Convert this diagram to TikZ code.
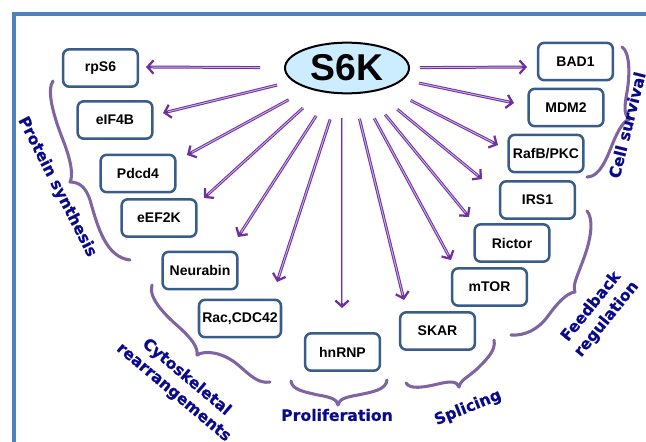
\documentclass[tikz,border=0pt]{standalone}
\usepackage{fontspec}
\setmainfont{Liberation Sans}
\newfontfamily\lblfont{DejaVu Sans Bold}[FakeBold=0.6]
\usetikzlibrary{arrows.meta,shapes.geometric}
\definecolor{framec}{RGB}{79,129,189}
\definecolor{arrowc}{RGB}{112,48,160}
\definecolor{arrowin}{RGB}{200,175,230}
\definecolor{bracec}{RGB}{128,100,162}
\definecolor{boxc}{RGB}{56,93,138}
\definecolor{lblc}{RGB}{10,10,140}
\definecolor{ellc}{RGB}{204,236,255}
\begin{document}
\begin{tikzpicture}[x=0.75pt,y=-0.75pt,
 box/.style={draw=boxc, line width=1.9pt, rounded corners=4.5pt, fill=white, minimum width=56pt, minimum height=28pt, inner sep=0pt, font=\fontsize{10.5}{12}\selectfont\bfseries},
 arr/.style={draw=arrowc, line width=2.2pt, -{Straight Barb[length=4.5pt,width=10pt,line width=1.7pt]}, postaction={draw=arrowin, line width=0.7pt, -, shorten >=4pt}},
 brace/.style={draw=bracec, line width=2.3pt, line cap=round, line join=round},
 lbl/.style={text=lblc, font=\lblfont\fontsize{11.8}{15}\selectfont, align=center, inner sep=0pt}
]
\useasboundingbox (0,0) rectangle (646,442);
\draw[framec, line width=2.6pt] (14,470) -- (14,14) -- (670,14);

% central node
\node[ellipse, draw=black, line width=1.5pt, fill=ellc, minimum width=93pt, minimum height=38pt, inner sep=0pt, font=\fontsize{28}{30}\selectfont\bfseries] (s6k) at (347,68) {S6K};

% target boxes
\node[box] (rps6) at (100.5,68) {rpS6};
\node[box] (eif4b) at (115,120) {eIF4B};
\node[box] (pdcd4) at (138,173.5) {Pdcd4};
\node[box] (eef2k) at (159,218) {eEF2K};
\node[box] (neur) at (200,270.5) {Neurabin};
\node[box, minimum width=61.5pt] (rac) at (240,318.5) {Rac,CDC42};
\node[box] (hnrnp) at (342.5,352) {hnRNP};
\node[box] (skar) at (437.5,331) {SKAR};
\node[box] (mtor) at (489.5,287) {mTOR};
\node[box] (rictor) at (512,243) {Rictor};
\node[box] (irs1) at (537.5,200) {IRS1};
\node[box] (rafb) at (546,153.5) {RafB/PKC};
\node[box] (mdm2) at (566,107.5) {MDM2};
\node[box] (bad1) at (575.5,61.5) {BAD1};

% arrow tips
\coordinate (t1) at (146,67);
\coordinate (t2) at (163,113);
\coordinate (t3) at (187,155);
\coordinate (t4) at (204,198);
\coordinate (t5) at (238,237);
\coordinate (t6) at (277,282);
\coordinate (t7) at (342,308);
\coordinate (t8) at (404,300);
\coordinate (t9) at (451,260);
\coordinate (t10) at (469,217);
\coordinate (t11) at (482,179);
\coordinate (t12) at (498,145);
\coordinate (t13) at (514,103);
\coordinate (t14) at (527,67);

\draw[arr, shorten <=18pt] (s6k) -- (t1);
\draw[arr, shorten <=12pt] (s6k) -- (t2);
\draw[arr, shorten <=17pt] (s6k) -- (t3);
\draw[arr, shorten <=18pt] (s6k) -- (t4);
\draw[arr, shorten <=20pt] (s6k) -- (t5);
\draw[arr, shorten <=20pt] (s6k) -- (t6);
\draw[arr, shorten <=18pt] (s6k.south -| t7) -- (t7);
\draw[arr, shorten <=19pt] (s6k) -- (t8);
\draw[arr, shorten <=21pt] (s6k) -- (t9);
\draw[arr, shorten <=21pt] (s6k) -- (t10);
\draw[arr, shorten <=21pt] (s6k) -- (t11);
\draw[arr, shorten <=20pt] (s6k) -- (t12);
\draw[arr, shorten <=12pt] (s6k) -- (t13);
\draw[arr, shorten <=7.5pt] (s6k) -- (t14);

% braces
\draw[brace] (53,81) .. controls (47,90) and (52,112) .. (63,140) .. controls (72,163) and (73,176) .. (70,182)
  .. controls (80,182) and (86,188) .. (90,200) .. controls (98,228) and (106,257) .. (130,260);
\draw[brace] (152,285) .. controls (148,298) and (165,315) .. (180,328) .. controls (193,340) and (198,348) .. (197,355)
  .. controls (205,350) and (222,352) .. (237,364) .. controls (250,375) and (258,384) .. (270,382);
\draw[brace] (291,381) .. controls (292,390) and (305,392) .. (318,395) .. controls (330,397) and (337,399) .. (338,405)
  .. controls (339,399) and (346,397) .. (358,395) .. controls (372,392) and (386,390) .. (387,380);
\draw[brace] (406,383) .. controls (410,390) and (425,387) .. (438,384) .. controls (450,381) and (457,381) .. (459,387)
  .. controls (460,380) and (470,376) .. (478,368) .. controls (488,358) and (496,350) .. (494,340);
\draw[brace] (587,211) .. controls (593,218) and (592,235) .. (585,255) .. controls (578,275) and (572,285) .. (575,292)
  .. controls (566,293) and (556,305) .. (548,316) .. controls (538,330) and (524,336) .. (511,335);
\draw[brace] (622,47) .. controls (630,52) and (630,75) .. (627,92) .. controls (624,108) and (624,116) .. (630,119)
  .. controls (622,121) and (616,135) .. (610,150) .. controls (603,168) and (596,177) .. (587,177);

% group labels
\node[lbl, rotate=-63] (lps) at (57,187) {Protein synthesis};
\node[lbl, rotate=-40] (lcy) at (180,385) {Cytoskeletal\\rearrangements};
\node[lbl] (lpr) at (337,415) {Proliferation};
\node[lbl, rotate=22] (lsp) at (468,408) {Splicing};
\node[lbl, rotate=51] (lfb) at (599,313) {Feedback\\regulation};
\node[lbl, rotate=76] (lcs) at (627,125) {Cell survival};
\end{tikzpicture}
\end{document}
